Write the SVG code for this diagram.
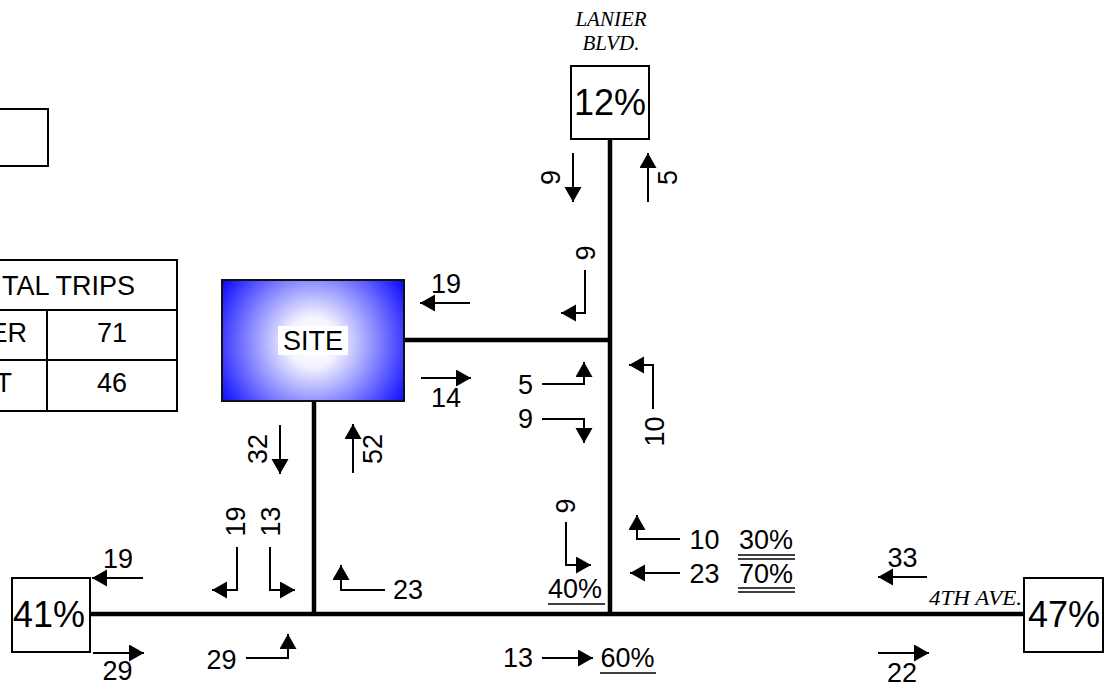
<svg xmlns="http://www.w3.org/2000/svg" width="1114" height="690" viewBox="0 0 1114 690">
<style>
  .box{fill:#fff;stroke:#000;stroke-width:2}
  .road{fill:none;stroke:#000;stroke-width:4.5;stroke-linecap:butt}
  .arr{fill:none;stroke:#000;stroke-width:2;stroke-linejoin:miter;marker-end:url(#ah)}
  .t{font-family:"Liberation Sans",Arial,sans-serif;font-size:27px;fill:#000}
  .c{text-anchor:middle}
  .e{text-anchor:end}
  .pct{font-family:"Liberation Sans",Arial,sans-serif;font-size:36px;text-anchor:middle;fill:#000}
  .st{font-family:"Liberation Serif","Times New Roman",serif;font-style:italic;font-size:21px;fill:#000}
  .ul{stroke:#000;stroke-width:1.6}
</style>
<defs>
  <marker id="ah" markerUnits="userSpaceOnUse" markerWidth="16" markerHeight="18" refX="15" refY="8.5" orient="auto" viewBox="0 0 16 18">
    <path d="M0,0 L15,8.5 L0,17 Z" fill="#000"/>
  </marker>
  <radialGradient id="siteGrad" gradientUnits="userSpaceOnUse" cx="313" cy="342" r="112">
    <stop offset="0" stop-color="#ffffff"/>
    <stop offset="0.22" stop-color="#f4f4ff"/>
    <stop offset="1" stop-color="#0000ff"/>
  </radialGradient>
</defs>
<rect width="1114" height="690" fill="#fff"/>

<g id="connectors">
  <path class="road" d="M610,139 V616"/>
  <path class="road" d="M404,340 H610"/>
  <path class="road" d="M314,401 V614"/>
  <path class="road" d="M90,614 H1025"/>
</g>

<g id="legend-box">
  <rect class="box" x="-4" y="109" width="52" height="57"/>
</g>

<g id="trip-table">
  <rect class="box" x="-10" y="260" width="187" height="151"/>
  <line x1="-10" y1="310" x2="177" y2="310" stroke="#000" stroke-width="2"/>
  <line x1="-10" y1="360" x2="177" y2="360" stroke="#000" stroke-width="2"/>
  <line x1="47" y1="310" x2="47" y2="411" stroke="#000" stroke-width="2"/>
  <text class="t e" x="135" y="295">TAL TRIPS</text>
  <text class="t e" x="27" y="342">ER</text>
  <text class="t e" x="12" y="392">T</text>
  <text class="t c" x="112" y="342">71</text>
  <text class="t c" x="112" y="392">46</text>
</g>

<g id="site">
  <rect x="222" y="280" width="182" height="121" fill="url(#siteGrad)" stroke="#111" stroke-width="2"/>
  <rect x="278" y="326" width="70" height="29" fill="#fff"/>
  <text class="t c" x="313" y="350">SITE</text>
</g>

<g id="lanier">
  <text class="st c" x="611" y="26">LANIER</text>
  <text class="st c" x="611" y="50">BLVD.</text>
  <rect class="box" x="571" y="66" width="78" height="73"/>
  <text class="pct" x="610" y="115">12%</text>
</g>

<g id="west">
  <rect class="box" x="12" y="578" width="78" height="74"/>
  <text class="pct" x="49" y="627">41%</text>
</g>

<g id="east">
  <text class="st" x="929" y="605" font-size="22" textLength="93" lengthAdjust="spacingAndGlyphs">4TH AVE.</text>
  <rect class="box" x="1024" y="578" width="79" height="74"/>
  <text class="pct" x="1064" y="627">47%</text>
</g>

<g id="movements">
  <path class="arr" d="M573,153 V202"/>
  <path class="arr" d="M648,202 V153"/>
  <path class="arr" d="M585,270 V313 H561"/>
  <path class="arr" d="M470,303 H420"/>
  <path class="arr" d="M421,378 H471"/>
  <path class="arr" d="M542,384 H584 V362"/>
  <path class="arr" d="M542,419 H584 V443"/>
  <path class="arr" d="M653,409 V365 H629"/>
  <path class="arr" d="M280,425 V474"/>
  <path class="arr" d="M353,473 V424"/>
  <path class="arr" d="M237,547 V590 H212"/>
  <path class="arr" d="M270,547 V590 H295"/>
  <path class="arr" d="M385,590 H341 V565"/>
  <path class="arr" d="M143,578 H92"/>
  <path class="arr" d="M93,653 H144"/>
  <path class="arr" d="M246,658 H288 V634"/>
  <path class="arr" d="M566,522 V565 H591"/>
  <path class="arr" d="M680,539 H637 V515"/>
  <path class="arr" d="M680,573 H630"/>
  <path class="arr" d="M542,658 H593"/>
  <path class="arr" d="M927,577 H878"/>
  <path class="arr" d="M878,653 H929"/>
</g>

<g id="volumes">
  <text class="t c" transform="translate(560,177.5) rotate(-90)">9</text>
  <text class="t c" transform="translate(677,177.5) rotate(-90)">5</text>
  <text class="t c" transform="translate(595,253) rotate(-90)">9</text>
  <text class="t c" transform="translate(664,431.5) rotate(-90)">10</text>
  <text class="t c" transform="translate(267,449) rotate(-90)">32</text>
  <text class="t c" transform="translate(382,449) rotate(-90)">52</text>
  <text class="t c" transform="translate(245,521.5) rotate(-90)">19</text>
  <text class="t c" transform="translate(280,521.5) rotate(-90)">13</text>
  <text class="t c" transform="translate(575,506) rotate(-90)">9</text>

  <text class="t c" x="446" y="293">19</text>
  <text class="t c" x="446" y="407">14</text>
  <text class="t c" x="525.5" y="394">5</text>
  <text class="t c" x="525.5" y="428">9</text>
  <text class="t c" x="118" y="568">19</text>
  <text class="t c" x="117.5" y="680">29</text>
  <text class="t c" x="221.5" y="669">29</text>
  <text class="t c" x="408" y="599">23</text>
  <text class="t c" x="704.5" y="549">10</text>
  <text class="t c" x="704.5" y="583">23</text>
  <text class="t c" x="518" y="667">13</text>
  <text class="t c" x="902.5" y="567">33</text>
  <text class="t c" x="902" y="682">22</text>
</g>

<g id="percentages">
  <text class="t c" x="575" y="598">40%</text>
  <line class="ul" x1="548" y1="604" x2="605" y2="604"/>
  <text class="t c" x="627.5" y="667">60%</text>
  <line class="ul" x1="600" y1="673" x2="656" y2="673"/>
  <text class="t c" x="766" y="549">30%</text>
  <line class="ul" x1="738" y1="555" x2="795" y2="555"/>
  <line class="ul" x1="738" y1="559" x2="795" y2="559"/>
  <text class="t c" x="766" y="583">70%</text>
  <line class="ul" x1="738" y1="588" x2="795" y2="588"/>
  <line class="ul" x1="738" y1="592" x2="795" y2="592"/>
</g>
</svg>
